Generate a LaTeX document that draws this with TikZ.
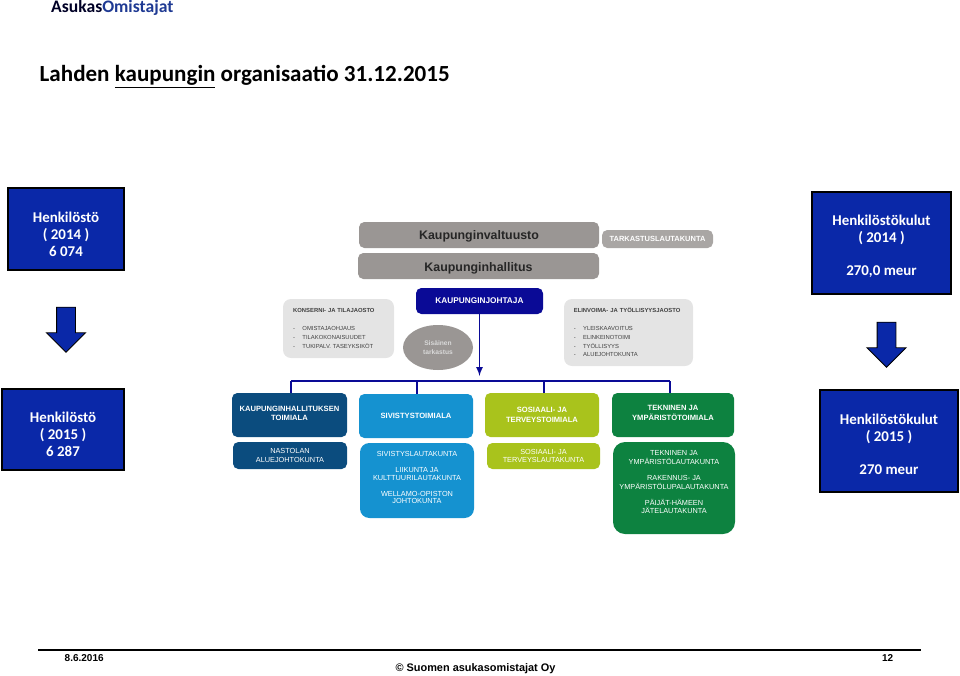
\documentclass[tikz,border=0pt]{standalone}
\usepackage{fontspec}
\setmainfont{Carlito}
\setsansfont{Liberation Sans}
\usetikzlibrary{shapes.geometric,shapes.arrows}
\definecolor{infoblue}{HTML}{0A28A8}
\definecolor{logoblue}{HTML}{1F3A93}
\definecolor{navy}{HTML}{0A0A96}
\definecolor{greybox}{HTML}{9A9694}
\definecolor{lightbox}{HTML}{E4E4E4}
\definecolor{darkblue}{HTML}{0B4C7E}
\definecolor{midblue}{HTML}{1592D0}
\definecolor{limebox}{HTML}{A9C31C}
\definecolor{greenbox}{HTML}{0D8240}
\newcommand\dropline[1]{\rule{0pt}{#1}}
\newcommand\liftline[1]{\rule[-#1]{0pt}{#1}}
\tikzset{
	boxsize/.style 2 args={minimum width=#1*0.75pt, minimum height=#2*0.75pt},
	infobox/.style={draw=black, line width=2pt, fill=infoblue, text=white, align=center, font=\bfseries\fontsize{11.2}{12.75}\selectfont},
	downarrow/.style={draw=black, line width=0.7pt, fill=infoblue, single arrow, shape border rotate=270, text width=13.5pt, minimum width=28.5pt, minimum height=33.75pt, single arrow head extend=7.5pt, single arrow tip angle=90, inner sep=0pt},
	orgbox/.style={rounded corners=4pt, inner sep=0pt, align=center, text=white, font=\sffamily\fontsize{5.5}{6.5}\selectfont},
	orghead/.style={orgbox, font=\sffamily\bfseries\fontsize{5.7}{7}\selectfont},
	listbox/.style={rounded corners=6pt, inner sep=0pt, fill=lightbox, text=black!75, align=left, font=\sffamily\fontsize{4.4}{6.5}\selectfont},
	busline/.style={draw=navy, line width=1.6pt},
}
\begin{document}
\begin{tikzpicture}[x=0.75pt, y=-0.75pt]
	\tikzset{>=latex}
	\useasboundingbox (0,0) rectangle (960,675);
	% header
	\node[anchor=west, text=black!85!blue, font=\bfseries\fontsize{13.2}{15}\selectfont] (logo) at (46.5,8) {Asukas\textcolor{logoblue}{Omistajat}};
	\node[anchor=west, font=\bfseries\fontsize{17.3}{20}\selectfont] (title) at (35,77) {Lahden \underline{kaupungin} organisaatio 31.12.2015};
	% info boxes
	\node[infobox, boxsize={116}{82}] (henk14) at (66,229) {\dropline{15.5pt}Henkilöstö\\( 2014 )\\6 074};
	\node[infobox, boxsize={122}{81}] (henk15) at (63,429.5) {\dropline{15.5pt}Henkilöstö\\( 2015 )\\6 287};
	\node[infobox, boxsize={139}{102}] (kulut14) at (881.5,243) {\dropline{12.5pt}Henkilöstökulut\\( 2014 )\\[12pt]270,0 meur};
	\node[infobox, boxsize={138}{102}] (kulut15) at (889,441) {\dropline{12.5pt}Henkilöstökulut\\( 2015 )\\[12pt]270 meur};
	\node[downarrow] (arrowl) at (66,325) {};
	\node[downarrow] (arrowr) at (886.5,340) {};
	% top of the chart
	\node[orgbox, fill=greybox, text=black!85, boxsize={240}{26}, font=\sffamily\bfseries\fontsize{9.3}{11}\selectfont] (valtuusto) at (479,235) {\dropline{9pt}Kaupunginvaltuusto};
	\node[orgbox, fill=greybox, text=black!85, boxsize={241}{26}, font=\sffamily\bfseries\fontsize{9.3}{11}\selectfont] (hallitus) at (478.5,266) {\dropline{10pt}Kaupunginhallitus};
	\node[orgbox, fill=greybox!85, boxsize={111}{18}, font=\sffamily\bfseries\fontsize{5.6}{6}\selectfont] (tarkastus) at (657.5,239) {TARKASTUSLAUTAKUNTA};
	\node[orghead, fill=navy, boxsize={127}{26}, font=\sffamily\bfseries\fontsize{6.2}{7}\selectfont] (johtaja) at (479.5,301) {KAUPUNGINJOHTAJA};
	\node[listbox, boxsize={111}{59}, text width=68pt] (konserni) at (338.5,328.5) {\textbf{KONSERNI- JA TILAJAOSTO}\\[7pt]-\hspace{5.5pt}OMISTAJAOHJAUS\\-\hspace{5.5pt}TILAKOKONAISUUDET\\-\hspace{5.5pt}TUKIPALV. TASEYKSIKÖT};
	\node[listbox, boxsize={129}{67}, text width=82pt] (elinvoima) at (628.5,332.5) {\textbf{ELINVOIMA- JA TYÖLLISYYSJAOSTO}\\[7pt]-\hspace{5.5pt}YLEISKAAVOITUS\\-\hspace{5.5pt}ELINKEINOTOIMI\\-\hspace{5.5pt}TYÖLLISYYS\\-\hspace{5.5pt}ALUEJOHTOKUNTA};
	\node[ellipse, fill=greybox, text=white!85!black, inner sep=0pt, boxsize={70}{45}, align=center, font=\sffamily\bfseries\fontsize{5}{6.5}\selectfont] (sisainen) at (438,347.5) {Sisäinen\\tarkastus};
	% lower boxes
	\node[orghead, fill=darkblue, boxsize={115}{44}] (hallinto) at (289.5,415) {KAUPUNGINHALLITUKSEN\\TOIMIALA\liftline{2.5pt}};
	\node[orgbox, fill=darkblue, boxsize={114}{27}] (nastola) at (290,455.5) {NASTOLAN\\ALUEJOHTOKUNTA};
	\node[orghead, fill=midblue, boxsize={114}{44}] (sivistys) at (416,416) {SIVISTYSTOIMIALA};
	\node[orgbox, fill=midblue, rounded corners=7pt, boxsize={114}{75}, font=\sffamily\fontsize{5.5}{5.8}\selectfont] (sivlauta) at (417,480.5) {SIVISTYSLAUTAKUNTA\\[6pt]LIIKUNTA JA\\KULTTUURILAUTAKUNTA\\[6pt]WELLAMO-OPISTON\\JOHTOKUNTA\liftline{4pt}};
	\node[orghead, fill=limebox, boxsize={114}{44}] (sosiaali) at (542,415) {SOSIAALI- JA\\TERVEYSTOIMIALA};
	\node[orgbox, fill=limebox, boxsize={113}{26}] (soslauta) at (543.5,456) {SOSIAALI- JA\\TERVEYSLAUTAKUNTA};
	\node[orghead, fill=greenbox, boxsize={122}{44}] (tekninen) at (673,415) {TEKNINEN JA\\YMPÄRISTÖTOIMIALA\liftline{3pt}};
	\node[orgbox, fill=greenbox, rounded corners=9pt, boxsize={122}{92}] (teklauta) at (674,488) {TEKNINEN JA\\YMPÄRISTÖLAUTAKUNTA\\[5.6pt]RAKENNUS- JA\\YMPÄRISTÖLUPALAUTAKUNTA\\[5.6pt]PÄIJÄT-HÄMEEN\\JÄTELAUTAKUNTA\liftline{8.5pt}};
	% connectors
	\coordinate (busl) at (291,381);
	\coordinate (busr) at (670,381);
	\draw[busline] (busl) -- (busr);
	\draw[busline] (busl) -- (busl |- hallinto.north);
	\draw[busline] (417,381) -- (417,394);
	\draw[busline] (544,381) -- (544,393);
	\draw[busline] (busr) -- (busr |- tekninen.north);
	\draw[->, draw=navy, line width=1.3pt] (johtaja.south) -- (479.5,376);
	% footer
	\coordinate (rulel) at (38,650);
	\coordinate (ruler) at (921,650);
	\draw[line width=0.9pt] (rulel) -- (ruler);
	\node[anchor=west, font=\sffamily\bfseries\fontsize{7.5}{8}\selectfont] (datum) at (60,658) {8.6.2016};
	\node[anchor=east, font=\sffamily\bfseries\fontsize{7.5}{8}\selectfont] (sivu) at (898,658) {12};
	\node[font=\sffamily\bfseries\fontsize{8.2}{10}\selectfont] (oy) at (475.5,669) {© Suomen asukasomistajat Oy};
\end{tikzpicture}
\end{document}
